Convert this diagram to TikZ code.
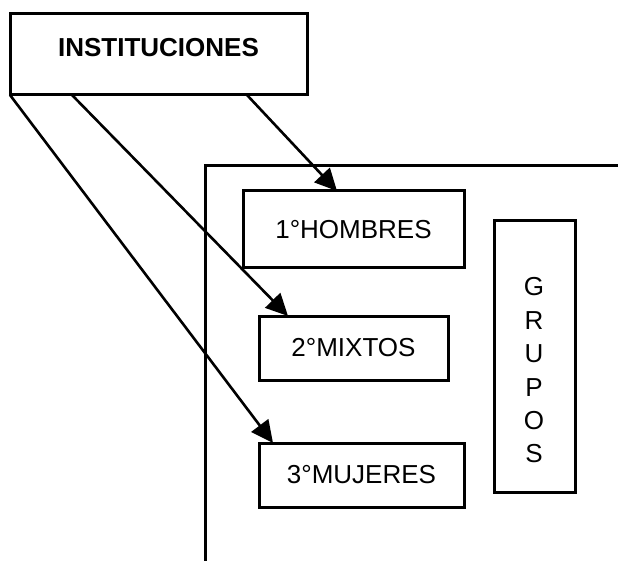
\documentclass[tikz,border=0pt]{standalone}
\usepackage{fontspec}
\setmainfont{Liberation Sans}
\usetikzlibrary{arrows.meta}
\tikzset{box/.style={draw, line width=3pt, outer sep=0pt, inner sep=0pt}}
\tikzset{conn/.style={line width=2.6pt, -{Triangle[length=22pt,width=21pt]}}}
\begin{document}
\begin{tikzpicture}[x=1pt,y=-1pt,font=\fontsize{26}{33.4}\selectfont]
\useasboundingbox (0,0) rectangle (618,561);
\node[box, minimum width=297, minimum height=81, text height=18, text depth=13, font=\fontsize{26}{30}\selectfont\bfseries] (inst) at (158.5,54.5) {INSTITUCIONES};
\node[box, minimum width=221, minimum height=77] (hombres) at (353.5,229.5) {1°HOMBRES};
\node[box, minimum width=189, minimum height=64] (mixtos) at (353.5,348) {2°MIXTOS};
\node[box, minimum width=205, minimum height=64] (mujeres) at (361.5,475) {3°MUJERES};
\node[box, minimum width=81, minimum height=271] (grupos) at (534.5,356.5) {};
\node[align=center] (grupostxt) at (534,370.5) {G\\R\\U\\P\\O\\S};
% marco
\coordinate (fbot) at (205,561);
\coordinate (fright) at (618,166);
\draw[line width=3pt] (fbot) |- (fright);
% flechas
\draw[conn] ([xshift=237pt]inst.south west) -- ([xshift=94pt]hombres.north west);
\draw[conn] ([xshift=62pt]inst.south west) -- ([xshift=29pt]mixtos.north west);
\draw[conn] (inst.south west) -- ([xshift=14pt]mujeres.north west);
\end{tikzpicture}
\end{document}
